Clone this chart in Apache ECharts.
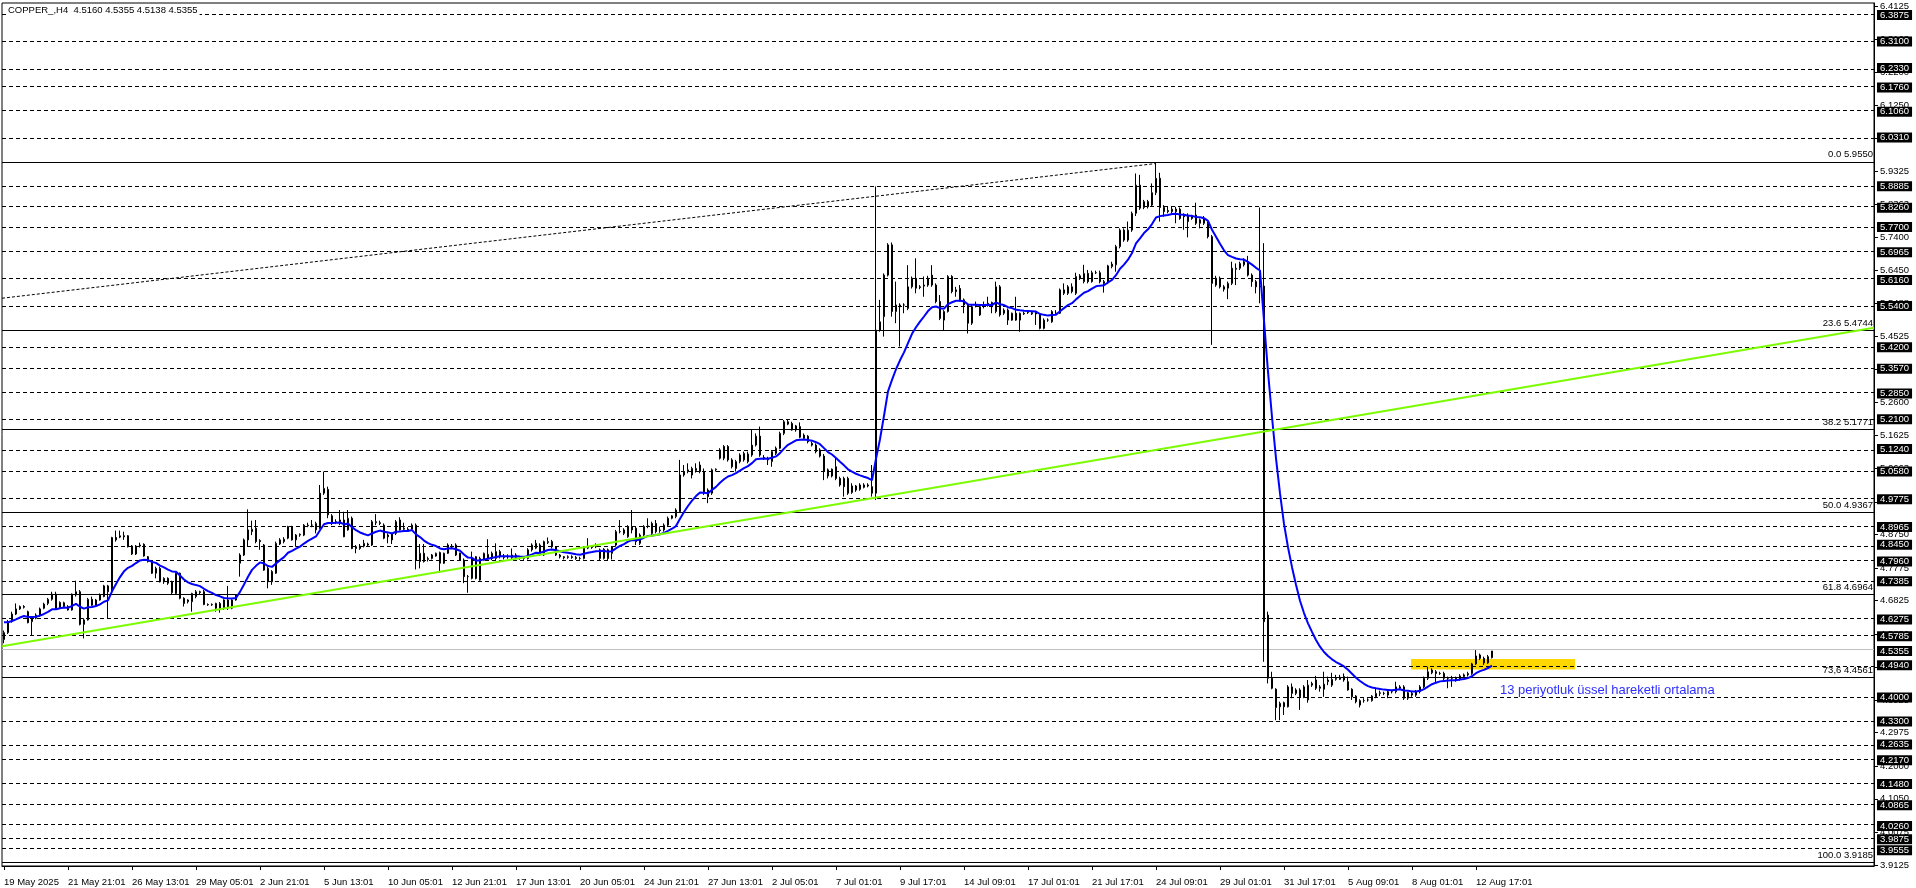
<!DOCTYPE html>
<html>
<head>
<meta charset="utf-8">
<script src="https://cdn.jsdelivr.net/npm/echarts@6/dist/echarts.min.js"></script>
<style>
html,body{margin:0;padding:0;background:#fff;}
#chart{width:1916px;height:888px;}
</style>
</head>
<body>
<div id="chart"></div>
<script>
// ---- DATA ----
const titleText = 'COPPER_,H4  4.5160 4.5355 4.5138 4.5355';
const timeTickBars = [0,16,32,48,64,80,96,112,128,144,160,176,192,208,224,240,256,272,288,304,320,336,352,368];
const timeTickLabels = ['19 May 2025','21 May 21:01','26 May 13:01','29 May 05:01','2 Jun 21:01','5 Jun 13:01','10 Jun 05:01','12 Jun 21:01','17 Jun 13:01','20 Jun 05:01','24 Jun 21:01','27 Jun 13:01','2 Jul 05:01','7 Jul 01:01','9 Jul 17:01','14 Jul 09:01','17 Jul 01:01','21 Jul 17:01','24 Jul 09:01','29 Jul 01:01','31 Jul 17:01','5 Aug 09:01','8 Aug 01:01','12 Aug 17:01'];
const priceTicks = [6.4125,6.3163,6.2200,6.1250,6.0288,5.9325,5.8363,5.7400,5.6450,5.5488,5.4525,5.3563,5.2600,5.1625,5.0663,4.9700,4.8750,4.7775,4.6825,4.5850,4.4888,4.3925,4.2975,4.2000,4.1050,4.0075,3.9125];
const hlineLevels = [6.3875,6.3100,6.2330,6.1760,6.1060,6.0310,5.8885,5.8260,5.7700,5.6965,5.6160,5.5400,5.4200,5.3570,5.2850,5.2100,5.1240,5.0580,4.9775,4.8965,4.8450,4.7960,4.7385,4.6275,4.5785,4.4940,4.4000,4.3300,4.2635,4.2170,4.1480,4.0865,4.0260,3.9875,3.9555];
const bidPrice = 4.5355;
const fibRatios = ['0.0','23.6','38.2','50.0','61.8','73,6','100.0'];
const fibPrices = [5.9550,5.4744,5.1771,4.9367,4.6964,4.4561,3.9185];
const fibDiagonal = [[-0.5,5.5627],[288,5.9550]];
const trendLine = [[-0.5,4.549],[467.5,5.477]];
const zoneBars = [351.75,392.75];
const zonePrices = [4.5121,4.4815];
const noteText = '13 periyotluk üssel hareketli ortalama';
const notePos = [374,4.4204];
const emaPeriod = 13;
const emaStart = 4.619;
// candles: [open, close, low, high]
const ohlcA = [
[4.569,4.589,4.558,4.595],[4.589,4.621,4.585,4.626],[4.621,4.643,4.618,4.650],[4.643,4.658,4.640,4.674],[4.658,4.665,4.655,4.668],
[4.665,4.663,4.659,4.669],[4.650,4.618,4.616,4.653],[4.621,4.634,4.582,4.637],[4.631,4.640,4.628,4.645],[4.640,4.658,4.635,4.662],
[4.660,4.672,4.657,4.676],[4.674,4.686,4.669,4.690],[4.686,4.701,4.682,4.708],[4.701,4.660,4.657,4.708],[4.662,4.677,4.658,4.680],
[4.665,4.676,4.660,4.679],[4.665,4.655,4.653,4.669],[4.655,4.701,4.653,4.703],[4.699,4.708,4.694,4.740],[4.708,4.613,4.610,4.713],
[4.613,4.626,4.572,4.631],[4.626,4.686,4.624,4.690],[4.686,4.669,4.667,4.694],[4.669,4.684,4.668,4.687],[4.684,4.699,4.682,4.703],
[4.694,4.725,4.692,4.728],[4.725,4.708,4.631,4.728],[4.708,4.866,4.705,4.868],[4.866,4.859,4.854,4.886],[4.867,4.871,4.864,4.886],
[4.871,4.868,4.859,4.883],[4.871,4.839,4.837,4.873],[4.841,4.818,4.815,4.844],[4.818,4.841,4.815,4.844],[4.841,4.844,4.837,4.851],
[4.846,4.812,4.810,4.849],[4.810,4.796,4.793,4.812],[4.796,4.762,4.760,4.799],[4.762,4.776,4.747,4.781],[4.776,4.737,4.735,4.781],
[4.737,4.747,4.731,4.750],[4.747,4.733,4.728,4.750],[4.705,4.737,4.701,4.740],[4.703,4.762,4.701,4.764],[4.762,4.689,4.686,4.764],
[4.689,4.674,4.665,4.692],[4.679,4.684,4.674,4.686],[4.679,4.703,4.650,4.705],[4.694,4.708,4.689,4.713],[4.708,4.706,4.701,4.711],
[4.708,4.671,4.669,4.713],[4.671,4.670,4.667,4.674],[4.670,4.671,4.667,4.674],[4.674,4.660,4.650,4.676],[4.660,4.674,4.647,4.678],
[4.684,4.660,4.655,4.686],[4.660,4.684,4.655,4.725],[4.660,4.684,4.657,4.686],[4.684,4.699,4.682,4.701],[4.791,4.815,4.752,4.820],
[4.815,4.859,4.812,4.863],[4.859,4.888,4.839,4.948],[4.883,4.890,4.873,4.915],[4.893,4.854,4.849,4.917],[4.857,4.854,4.830,4.861],
[4.844,4.771,4.769,4.847],[4.776,4.737,4.718,4.781],[4.737,4.767,4.728,4.771],[4.762,4.849,4.760,4.854],[4.847,4.859,4.844,4.864],
[4.854,4.861,4.849,4.867],[4.864,4.898,4.861,4.900],[4.898,4.859,4.857,4.900],[4.859,4.873,4.839,4.876],[4.873,4.875,4.868,4.878],
[4.873,4.902,4.870,4.905],[4.900,4.902,4.896,4.909],[4.902,4.902,4.896,4.917],[4.888,4.907,4.878,4.912],[4.893,4.995,4.890,5.019],
[4.995,5.009,4.990,5.058],[5.006,4.932,4.922,5.014],[4.929,4.907,4.902,4.934],[4.912,4.912,4.905,4.919],[4.907,4.917,4.902,4.946],
[4.917,4.868,4.867,4.941],[4.888,4.922,4.886,4.946],[4.922,4.834,4.832,4.927],[4.839,4.834,4.820,4.844],[4.834,4.841,4.830,4.847],
[4.841,4.849,4.837,4.859],[4.844,4.847,4.841,4.851],[4.844,4.912,4.841,4.917],[4.909,4.912,4.902,4.934],[4.909,4.907,4.902,4.915],
[4.902,4.864,4.861,4.907],[4.873,4.868,4.849,4.878],[4.878,4.859,4.847,4.880],[4.878,4.912,4.873,4.917],[4.917,4.888,4.886,4.925],
[4.890,4.893,4.886,4.909],[4.890,4.888,4.883,4.896],[4.890,4.902,4.888,4.907],[4.902,4.800,4.773,4.907],[4.796,4.820,4.776,4.847],
[4.820,4.796,4.793,4.847],[4.802,4.805,4.796,4.810],[4.805,4.815,4.802,4.818],[4.812,4.820,4.810,4.822],[4.822,4.791,4.764,4.825],
[4.791,4.820,4.789,4.822],[4.820,4.844,4.818,4.849],[4.839,4.841,4.834,4.847],[4.844,4.815,4.812,4.849],[4.820,4.800,4.799,4.822],
[4.800,4.752,4.733,4.805],[4.752,4.752,4.705,4.757],[4.747,4.805,4.744,4.825],[4.810,4.747,4.744,4.812],[4.742,4.805,4.740,4.810],
[4.800,4.820,4.799,4.822],[4.805,4.817,4.802,4.861],[4.805,4.820,4.800,4.825],[4.805,4.825,4.800,4.849],[4.810,4.825,4.805,4.830]
];
const ohlcB = [
[4.808,4.810,4.802,4.818],[4.810,4.810,4.804,4.817],[4.815,4.808,4.802,4.834],[4.808,4.815,4.804,4.820],[4.808,4.805,4.801,4.812],
[4.805,4.805,4.801,4.810],[4.805,4.830,4.802,4.835],[4.830,4.844,4.825,4.849],[4.835,4.849,4.832,4.859],[4.844,4.815,4.812,4.849],
[4.815,4.854,4.812,4.857],[4.851,4.854,4.847,4.866],[4.854,4.839,4.834,4.859],[4.839,4.815,4.812,4.841],[4.815,4.810,4.805,4.818],
[4.810,4.807,4.802,4.812],[4.808,4.810,4.804,4.814],[4.810,4.808,4.804,4.814],[4.808,4.805,4.801,4.812],[4.805,4.805,4.801,4.810],
[4.805,4.835,4.802,4.839],[4.835,4.839,4.832,4.864],[4.839,4.837,4.833,4.844],[4.839,4.841,4.835,4.849],[4.805,4.830,4.799,4.834],
[4.805,4.832,4.802,4.835],[4.830,4.805,4.799,4.834],[4.820,4.839,4.802,4.841],[4.844,4.883,4.839,4.888],[4.883,4.883,4.878,4.917],
[4.888,4.878,4.873,4.893],[4.868,4.898,4.865,4.902],[4.898,4.888,4.878,4.946],[4.893,4.854,4.844,4.898],[4.849,4.873,4.844,4.878],
[4.873,4.898,4.868,4.902],[4.898,4.900,4.893,4.922],[4.907,4.878,4.873,4.912],[4.907,4.883,4.878,4.917],[4.886,4.888,4.880,4.898],
[4.888,4.902,4.883,4.907],[4.902,4.922,4.898,4.927],[4.922,4.929,4.919,4.931],[4.927,4.946,4.922,4.951],[4.941,5.048,4.938,5.092],
[5.048,5.058,5.043,5.077],[5.058,5.063,5.053,5.082],[5.048,5.067,5.038,5.072],[5.061,5.067,5.055,5.082],[5.077,5.058,5.053,5.087],
[5.058,4.995,4.990,5.067],[5.004,4.985,4.966,5.009],[4.995,5.063,4.990,5.067],[5.063,5.065,5.058,5.067],[5.121,5.097,5.093,5.126],
[5.131,5.097,5.091,5.135],[5.131,5.092,5.087,5.135],[5.092,5.072,5.067,5.097],[5.067,5.087,5.058,5.092],[5.087,5.106,5.082,5.111],
[5.092,5.111,5.087,5.116],[5.087,5.109,5.082,5.116],[5.106,5.135,5.101,5.181],[5.135,5.161,5.131,5.169],[5.161,5.106,5.101,5.189],
[5.099,5.097,5.092,5.106],[5.097,5.092,5.077,5.101],[5.087,5.116,5.072,5.121],[5.111,5.126,5.106,5.131],[5.126,5.169,5.123,5.174],
[5.169,5.203,5.164,5.208],[5.196,5.203,5.193,5.210],[5.198,5.179,5.177,5.203],[5.179,5.191,5.174,5.194],[5.189,5.158,5.155,5.201],
[5.164,5.155,5.150,5.169],[5.161,5.145,5.140,5.164],[5.140,5.135,5.131,5.145],[5.135,5.116,5.111,5.140],[5.121,5.103,5.099,5.126],
[5.103,5.058,5.033,5.109],[5.063,5.045,5.038,5.067],[5.045,5.065,5.041,5.067],[5.072,5.038,5.033,5.097],[5.038,5.019,5.014,5.043],
[5.038,5.014,4.985,5.043],[5.038,4.995,4.990,5.043],[4.997,5.016,4.993,5.024],[5.004,5.016,4.999,5.019],[5.006,5.019,5.002,5.024],
[5.012,5.019,5.009,5.024],[5.019,5.016,5.012,5.024],[5.014,4.995,4.985,5.077],[4.995,5.470,4.975,5.888],[5.470,5.494,5.465,5.558],
[5.509,5.630,5.451,5.635],[5.630,5.718,5.626,5.723],[5.718,5.524,5.509,5.725],[5.524,5.543,5.490,5.611],[5.543,5.538,5.422,5.548],
[5.543,5.543,5.519,5.548],[5.533,5.596,5.528,5.659],[5.596,5.621,5.591,5.626],[5.621,5.592,5.577,5.679],[5.596,5.594,5.589,5.601],
[5.601,5.598,5.567,5.626],[5.601,5.621,5.596,5.628],[5.630,5.601,5.596,5.659],[5.601,5.553,5.548,5.606],[5.553,5.504,5.499,5.572],
[5.499,5.524,5.470,5.528],[5.524,5.626,5.521,5.630],[5.626,5.582,5.577,5.630],[5.587,5.582,5.567,5.596],[5.591,5.558,5.553,5.601],
[5.558,5.543,5.519,5.562],[5.543,5.490,5.460,5.548],[5.490,5.538,5.485,5.543],[5.540,5.543,5.536,5.553],[5.514,5.538,5.511,5.543],
[5.540,5.543,5.533,5.553],[5.546,5.548,5.538,5.567],[5.550,5.538,5.519,5.553],[5.524,5.596,5.519,5.611],[5.596,5.514,5.509,5.601]
];
const ohlcC = [
[5.519,5.528,5.514,5.533],[5.528,5.499,5.485,5.533],[5.499,5.519,5.497,5.521],[5.519,5.499,5.497,5.567],[5.499,5.519,5.465,5.521],
[5.517,5.519,5.514,5.524],[5.521,5.521,5.517,5.526],[5.517,5.521,5.514,5.526],[5.521,5.517,5.485,5.524],[5.514,5.475,5.472,5.519],
[5.475,5.499,5.472,5.504],[5.499,5.499,5.494,5.504],[5.494,5.524,5.491,5.528],[5.519,5.519,5.514,5.528],[5.519,5.587,5.517,5.591],
[5.577,5.587,5.572,5.606],[5.577,5.596,5.572,5.601],[5.596,5.582,5.577,5.606],[5.577,5.626,5.572,5.637],[5.621,5.628,5.616,5.633],
[5.611,5.635,5.606,5.660],[5.635,5.611,5.606,5.645],[5.611,5.637,5.608,5.643],[5.637,5.637,5.633,5.643],[5.637,5.611,5.606,5.643],
[5.611,5.606,5.579,5.616],[5.608,5.657,5.604,5.660],[5.655,5.662,5.650,5.669],[5.660,5.713,5.640,5.718],[5.713,5.761,5.708,5.766],
[5.761,5.732,5.727,5.766],[5.732,5.761,5.727,5.786],[5.761,5.810,5.756,5.815],[5.810,5.892,5.802,5.926],[5.892,5.825,5.820,5.922],
[5.827,5.844,5.822,5.849],[5.844,5.829,5.824,5.849],[5.834,5.870,5.829,5.897],[5.870,5.912,5.863,5.956],[5.912,5.827,5.786,5.928],
[5.827,5.815,5.800,5.834],[5.818,5.815,5.810,5.831],[5.815,5.822,5.810,5.829],[5.822,5.815,5.781,5.829],[5.822,5.795,5.791,5.827],
[5.805,5.800,5.762,5.810],[5.805,5.786,5.740,5.810],[5.795,5.800,5.791,5.805],[5.805,5.781,5.776,5.841],[5.781,5.791,5.766,5.795],
[5.795,5.781,5.776,5.802],[5.781,5.742,5.737,5.786],[5.742,5.606,5.427,5.747],[5.601,5.621,5.596,5.628],[5.621,5.596,5.591,5.626],
[5.596,5.589,5.582,5.601],[5.592,5.606,5.560,5.611],[5.606,5.650,5.601,5.669],[5.647,5.650,5.601,5.664],[5.650,5.664,5.645,5.669],
[5.660,5.669,5.655,5.679],[5.669,5.630,5.626,5.686],[5.630,5.611,5.596,5.635],[5.611,5.596,5.577,5.616],[5.598,5.596,5.548,5.827],
[5.598,4.621,4.504,5.723],[4.640,4.456,4.441,4.650],[4.456,4.427,4.424,4.475],[4.424,4.371,4.334,4.427],[4.373,4.383,4.334,4.388],
[4.385,4.373,4.349,4.388],[4.373,4.431,4.371,4.436],[4.412,4.431,4.398,4.441],[4.412,4.422,4.407,4.427],[4.422,4.402,4.364,4.427],
[4.400,4.431,4.398,4.436],[4.393,4.436,4.385,4.451],[4.436,4.441,4.431,4.446],[4.451,4.427,4.422,4.463],[4.427,4.431,4.417,4.436],
[4.424,4.439,4.402,4.475],[4.446,4.451,4.436,4.461],[4.436,4.453,4.431,4.472],[4.453,4.456,4.449,4.466],[4.453,4.459,4.451,4.466],
[4.461,4.451,4.446,4.470],[4.446,4.422,4.420,4.461],[4.424,4.402,4.393,4.427],[4.404,4.388,4.383,4.407],[4.378,4.391,4.371,4.395],
[4.391,4.391,4.385,4.398],[4.393,4.393,4.388,4.398],[4.391,4.404,4.388,4.407],[4.402,4.412,4.398,4.427],[4.412,4.414,4.404,4.420],
[4.412,4.412,4.407,4.417],[4.407,4.417,4.398,4.422],[4.417,4.417,4.412,4.422],[4.417,4.431,4.412,4.446],[4.427,4.431,4.422,4.436],
[4.431,4.398,4.393,4.436],[4.398,4.414,4.393,4.417],[4.412,4.407,4.402,4.417],[4.407,4.417,4.402,4.422],[4.417,4.431,4.412,4.436],
[4.431,4.456,4.427,4.461],[4.456,4.475,4.451,4.490],[4.472,4.480,4.468,4.485],[4.475,4.470,4.441,4.480],[4.470,4.470,4.466,4.475],
[4.470,4.456,4.451,4.475],[4.456,4.456,4.427,4.461],[4.456,4.456,4.431,4.463],[4.456,4.451,4.446,4.461],[4.453,4.463,4.449,4.468],
[4.461,4.466,4.456,4.470],[4.466,4.470,4.461,4.475],[4.470,4.498,4.466,4.501],[4.498,4.521,4.495,4.538],[4.524,4.514,4.509,4.528],
[4.514,4.501,4.495,4.519],[4.501,4.519,4.498,4.524],[4.5160,4.5355,4.5138,4.5355]
];
const xMin = -0.5, xMax = 467.5;
const yMin = 3.9094, yMax = 6.4224;

// ---- BUILD ----
const ohlc = ohlcA.concat(ohlcB, ohlcC);
const candleData = ohlc.map((r, i) => [i, r[0], r[1], r[2], r[3]]);
// 13-period exponential moving average of the closes (the indicator shown on the chart)
const emaData = [];
let ema = emaStart;
const k = 2 / (emaPeriod + 1);
ohlc.forEach((r, i) => {
  if (i > 0) ema = ema + (r[1] - ema) * k;
  emaData.push([i, +ema.toFixed(4)]);
});

const FONT = "'Liberation Sans',Arial,sans-serif";
const FS = 9.5;
const chart = echarts.init(document.getElementById('chart'), null, {renderer: 'canvas'});

const hlineData = hlineLevels.map(v => ({yAxis: v}));
const fibData = fibPrices.map((v, i) => ({yAxis: v, label: {formatter: fibRatios[i] + ' ' + v.toFixed(4)}}));

chart.setOption({
  animation: false,
  backgroundColor: '#ffffff',
  title: {
    text: titleText, left: 6, top: 5, padding: [0, 2],
    backgroundColor: '#ffffff',
    textStyle: {fontFamily: FONT, fontSize: FS, fontWeight: 'normal', color: '#000'}
  },
  grid: {left: 2, right: 42, top: 3, bottom: 22, show: true, borderColor: '#000', borderWidth: 1,
         backgroundColor: '#fff', containLabel: false, outerBoundsMode: 'none'},
  xAxis: {
    type: 'value', min: xMin, max: xMax,
    axisLine: {show: true, onZero: false, lineStyle: {color: '#000'}},
    axisTick: {show: true, length: 4, customValues: timeTickBars, lineStyle: {color: '#000'}},
    splitLine: {show: false},
    axisLabel: {
      customValues: timeTickBars, align: 'left', margin: 11, showMinLabel: true, showMaxLabel: true,
      hideOverlap: false,
      fontFamily: FONT, fontSize: FS, color: '#000',
      formatter: v => timeTickLabels[timeTickBars.indexOf(Math.round(v))] || ''
    }
  },
  yAxis: [{
    type: 'value', position: 'right', min: yMin, max: yMax, scale: true,
    axisLine: {show: true, onZero: false, lineStyle: {color: '#000'}},
    axisTick: {show: true, length: 4, inside: false, customValues: priceTicks, lineStyle: {color: '#000'}},
    splitLine: {show: false},
    axisLabel: {customValues: priceTicks, margin: 6, fontFamily: FONT, fontSize: FS, color: '#000',
                showMinLabel: true, showMaxLabel: true, formatter: v => v.toFixed(4)}
  }, {
    type: 'value', position: 'right', min: yMin, max: yMax, scale: true, z: 5,
    axisLine: {show: false}, axisTick: {show: false}, splitLine: {show: false},
    axisLabel: {customValues: hlineLevels.concat([bidPrice]), margin: 3, fontFamily: FONT, fontSize: FS,
                color: '#fff', backgroundColor: '#000', padding: [0, 3], lineHeight: 10,
                formatter: v => v.toFixed(4)}
  }],
  series: [
    {
      type: 'line', name: 'zone', data: [], z: 1, silent: true,
      markArea: {silent: true, z: 1, itemStyle: {color: '#ffd700'},
        data: [[{coord: [zoneBars[0], zonePrices[0]]}, {coord: [zoneBars[1], zonePrices[1]]}]]}
    },
    {
      type: 'line', name: 'levels', data: [], z: 2, silent: true,
      markLine: {silent: true, z: 2, symbol: ['none', 'none'], animation: false,
        label: {show: false},
        lineStyle: {color: '#000', type: [4, 3], width: 1},
        data: hlineData}
    },
    {
      type: 'line', name: 'bid', data: [], z: 2, silent: true,
      markLine: {silent: true, z: 2, symbol: ['none', 'none'], animation: false,
        label: {show: false},
        lineStyle: {color: '#c0c0c0', type: 'solid', width: 1},
        data: [{yAxis: bidPrice}]}
    },
    {
      type: 'line', name: 'fibo', data: [], z: 2, silent: true,
      markLine: {silent: true, z: 2, symbol: ['none', 'none'], animation: false,
        lineStyle: {color: '#000', type: 'solid', width: 1},
        label: {show: true, position: 'insideEndTop', distance: [1, 2], color: '#000',
                fontFamily: FONT, fontSize: FS},
        data: fibData}
    },
    {
      type: 'candlestick', name: 'COPPER', data: candleData, z: 3, barWidth: 2,
      itemStyle: {color: '#ffffff', color0: '#000000', borderColor: '#000000', borderColor0: '#000000',
                  borderColorDoji: '#000000', borderWidth: 1}
    },
    {
      type: 'line', name: 'EMA13', data: emaData, z: 4, showSymbol: false, symbol: 'none',
      lineStyle: {color: '#0000ff', width: 2},
      markPoint: {silent: true, symbol: 'circle', symbolSize: 0, z: 6,
        label: {show: true, position: 'right', distance: 0, formatter: noteText,
                fontFamily: FONT, fontSize: 13, color: '#2f2fff'},
        data: [{coord: notePos}]}
    },
    {
      type: 'line', name: 'trend', data: trendLine, z: 5, showSymbol: false, symbol: 'none',
      lineStyle: {color: '#7cfc00', width: 2}
    },
    {
      type: 'line', name: 'fibDiag', data: fibDiagonal, z: 5, showSymbol: false, symbol: 'none',
      lineStyle: {color: '#000', width: 1, type: [3, 2]}
    }
  ]
});
</script>
</body>
</html>
